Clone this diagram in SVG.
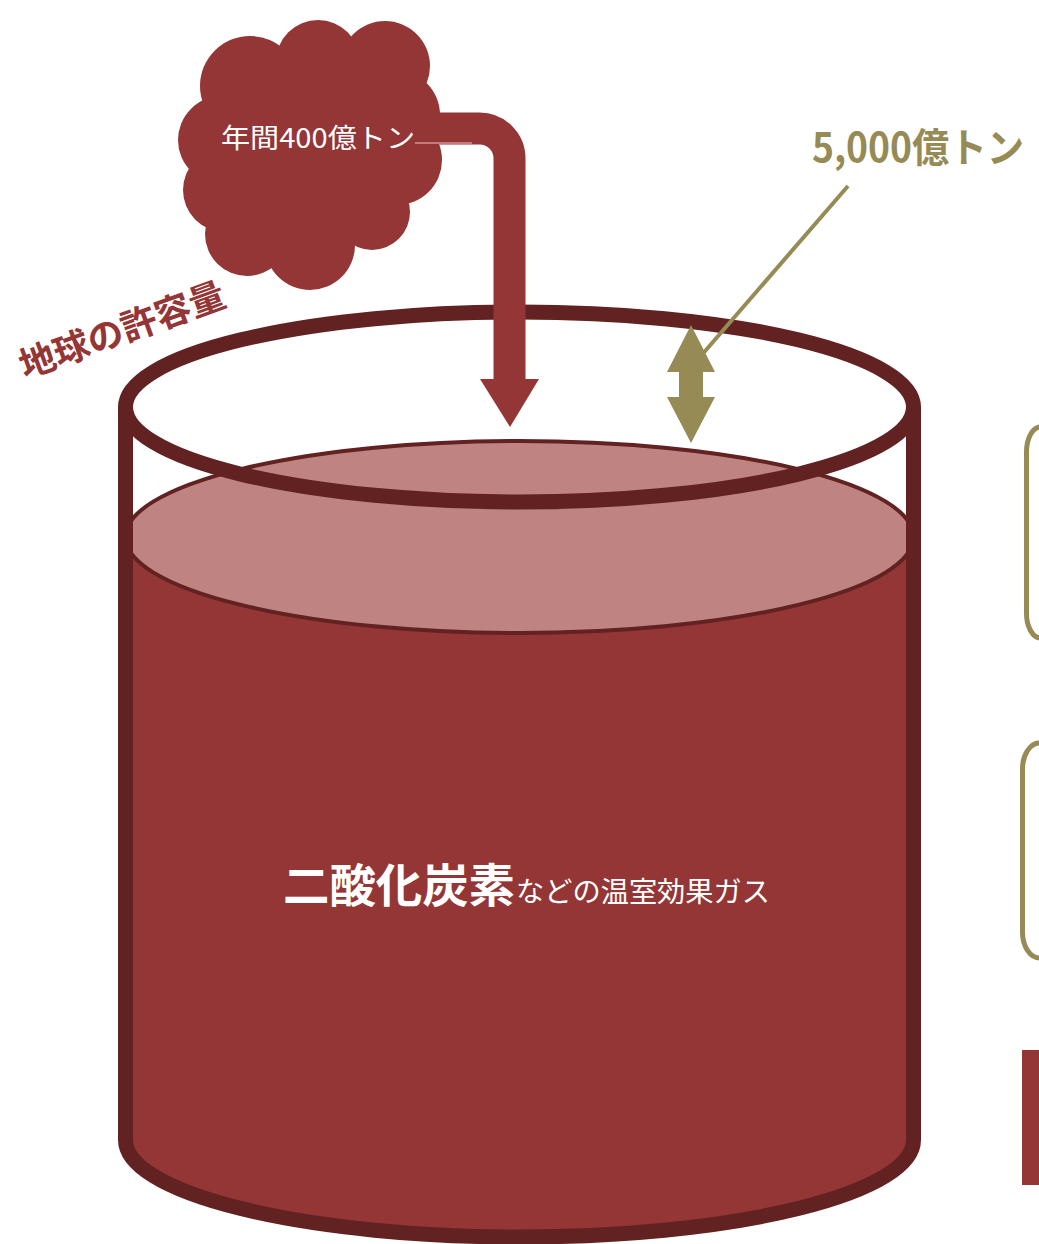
<svg xmlns="http://www.w3.org/2000/svg" width="1039" height="1244" viewBox="0 0 1039 1244">
  <style>
    .red { fill: #943636; }
    .wall { fill: none; stroke: #622222; stroke-width: 15; }
    .olive { fill: #968A55; }
    .bracket { fill: none; stroke: #968A55; stroke-width: 5; }
    .jp { font-family: "Noto Sans CJK JP", "Noto Sans", sans-serif; }
  </style>
  <rect width="1039" height="1244" fill="#ffffff"/>

  <!-- tank: liquid body, surface, walls and rim -->
  <g id="tank">
    <path class="red" d="M125.5,537 V1140 A394,97 0 0 0 913.5,1140 V537 Z"/>
    <ellipse cx="519.5" cy="537" rx="394" ry="96" fill="#BF8482" stroke="#622222" stroke-width="4"/>
    <path class="wall" d="M125.5,407 V1140 A394,97 0 0 0 913.5,1140 V407"/>
    <ellipse class="wall" cx="519.5" cy="407" rx="394" ry="95"/>
  </g>

  <!-- emission cloud -->
  <g id="cloud" class="red">
    <circle cx="250" cy="86" r="50"/>
    <circle cx="318" cy="62" r="42"/>
    <circle cx="385" cy="66" r="45"/>
    <circle cx="395" cy="115" r="45"/>
    <circle cx="397" cy="160" r="45"/>
    <circle cx="372" cy="212" r="38"/>
    <circle cx="310" cy="245" r="45"/>
    <circle cx="247" cy="234" r="42"/>
    <circle cx="225" cy="190" r="42"/>
    <circle cx="222" cy="140" r="44"/>
    <circle cx="310" cy="150" r="95"/>
  </g>

  <!-- connectors -->
  <g id="connectors">
    <path d="M420,128.5 H479.5 A30,30 0 0 1 509.5,158.5 V382" fill="none" stroke="#943636" stroke-width="32"/>
    <polygon class="red" points="480,379 539,379 510,427"/>
    <line x1="415" y1="143" x2="472" y2="143" stroke="#C47C7C" stroke-width="2"/>
    <line x1="848" y1="186" x2="700" y2="357" stroke="#968A55" stroke-width="4"/>
    <polygon class="olive" points="691,325 715,372 703,372 703,397 715,397 691,443 667,397 679,397 679,372 667,372"/>
  </g>

  <!-- side panels at the right edge -->
  <g id="panel-1"><path class="bracket" d="M1040,427 A14,25 0 0 0 1026.5,452 V612 A14,25 0 0 0 1040,638"/></g>
  <g id="panel-2"><path class="bracket" d="M1040,743 A17,26 0 0 0 1022.5,769 V932 A17,26 0 0 0 1040,958"/></g>
  <g id="panel-3"><rect class="red" x="1022" y="1050" width="20" height="135"/></g>

  <!-- labels -->
  <g id="labels" class="jp">
    <text x="221" y="148" font-size="27" fill="#ffffff" textLength="194" lengthAdjust="spacingAndGlyphs">年間400億トン</text>
    <text x="812" y="162" font-size="40" font-weight="bold" fill="#968A55" textLength="212" lengthAdjust="spacingAndGlyphs">5,000億トン</text>
    <text transform="translate(25,379) rotate(-20)" font-size="36" font-weight="bold" fill="#943636" textLength="216" lengthAdjust="spacingAndGlyphs">地球の許容量</text>
    <text x="283" y="902" font-size="46" font-weight="bold" fill="#ffffff" textLength="232" lengthAdjust="spacingAndGlyphs">二酸化炭素</text>
    <text x="516" y="902" font-size="28" fill="#ffffff" textLength="254" lengthAdjust="spacingAndGlyphs">などの温室効果ガス</text>
  </g>
</svg>
